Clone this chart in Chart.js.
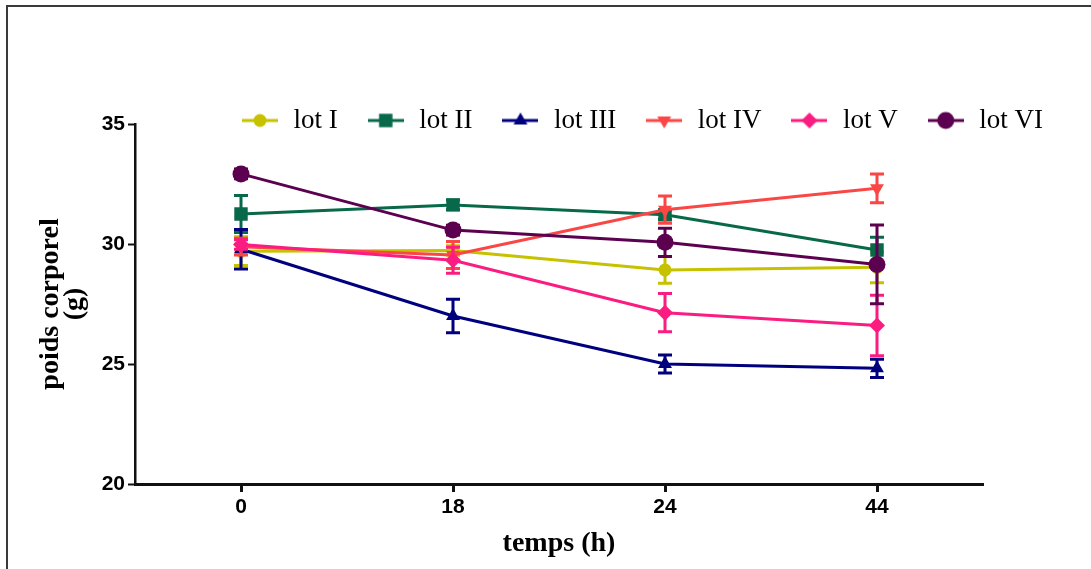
<!DOCTYPE html>
<html lang="fr">
<head>
<meta charset="utf-8">
<title>Poids corporel</title>
<script src="https://cdn.jsdelivr.net/npm/chart.js@4.4.1/dist/chart.umd.min.js"></script>
<style>
  html, body { margin: 0; padding: 0; background: #fff; overflow: hidden; }
  #zone { position: relative; width: 1091px; height: 569px; }
  #graphePoids { position: absolute; left: 0; top: 0; }
  #cadre { position: absolute; left: 6px; top: 5px; width: 1100px; height: 600px;
           border-left: 2px solid #3a3a3a; border-top: 2px solid #3a3a3a; pointer-events: none; }
</style>
</head>
<body>
<div id="zone">
  <canvas id="graphePoids" width="1091" height="569" style="width:1091px;height:569px"></canvas>
  <div id="cadre"></div>
</div>
<script>
/* ------------ Données ------------ */
const heures = ["0", "18", "24", "44"];
const nomsLots = ["lot I", "lot II", "lot III", "lot IV", "lot V", "lot VI"];

const lot1 = [29.70, 29.73, 28.92, 29.03];
const lot2 = [31.25, 31.63, 31.22, 29.75];
const lot3 = [29.78, 27.00, 25.00, 24.82];
const lot4 = [29.89, 29.54, 31.43, 32.32];
const lot5 = [29.98, 29.32, 27.14, 26.60];
const lot6 = [32.92, 30.58, 30.07, 29.15];

// erreurs standard (barres d'erreur)
const err1 = [0.60, 0.20, 0.56, 0.64];
const err2 = [0.77, 0.20, 0.20, 0.53];
const err3 = [0.82, 0.70, 0.37, 0.38];
const err4 = [0.35, 0.56, 0.57, 0.60];
const err5 = [0.20, 0.54, 0.80, 1.26];
const err6 = [0.20, 0.20, 0.59, 1.64];

const graduationsY = [20, 25, 30, 35];

/* ------------ Styles ------------ */
const couleurs = ["#c6c200", "#08694a", "#00007f", "#fb4646", "#fb1c82", "#5c0050"];
const formes = ["circle", "rect", "triangle", "triangle", "rectRot", "circle"];
const rotations = [0, 0, 0, 180, 0, 0];
const rayons = [6.5, 9.5, 8, 8, 8, 8.5];

const valeurs = [lot1, lot2, lot3, lot4, lot5, lot6];
const erreurs = [err1, err2, err3, err4, err5, err6];

const policeSerif = "'Liberation Serif', 'Times New Roman', serif";
const policeSans = "'Liberation Sans', Arial, sans-serif";

/* ------------ Barres d'erreur (dessinées avant chaque série) ------------ */
const barresErreur = {
  id: "barresErreur",
  beforeDatasetDraw(chart, args) {
    const i = args.index;
    const ds = chart.data.datasets[i];
    const y = chart.scales.y;
    const ctx = chart.ctx;
    ctx.save();
    ctx.strokeStyle = ds.borderColor;
    ctx.lineWidth = 3;
    args.meta.data.forEach((pt, j) => {
      const v = ds.data[j];
      const e = ds.erreurs[j];
      const haut = y.getPixelForValue(v + e);
      const bas = y.getPixelForValue(v - e);
      ctx.beginPath();
      ctx.moveTo(pt.x, haut);
      ctx.lineTo(pt.x, bas);
      ctx.moveTo(pt.x - 7, haut);
      ctx.lineTo(pt.x + 7, haut);
      ctx.moveTo(pt.x - 7, bas);
      ctx.lineTo(pt.x + 7, bas);
      ctx.stroke();
    });
    ctx.restore();
  }
};

/* ------------ Légende : on la décale un peu ------------ */
const placerLegende = {
  id: "placerLegende",
  afterLayout(chart) {
    const lg = chart.legend;
    lg.left = 212;
    lg.right = 1091;
    lg.top += 20;
    lg.bottom += 20;
  }
};

// petit dessin trait + symbole pour la légende
function symboleLegende(i) {
  const c = document.createElement("canvas");
  c.width = 36;
  c.height = 20;
  const ctx = c.getContext("2d");
  ctx.strokeStyle = couleurs[i];
  ctx.fillStyle = couleurs[i];
  ctx.lineWidth = 3;
  ctx.beginPath();
  ctx.moveTo(0, 10);
  ctx.lineTo(36, 10);
  ctx.stroke();
  Chart.helpers.drawPoint(ctx, {
    pointStyle: formes[i], rotation: rotations[i], radius: rayons[i], borderWidth: 0
  }, 18, 10);
  return c;
}

/* ------------ Graphique ------------ */
function genererGraphique() {
  const ctx = document.getElementById("graphePoids");

  const datasets = nomsLots.map((nom, i) => ({
    label: nom,
    data: valeurs[i],
    erreurs: erreurs[i],
    borderColor: couleurs[i],
    backgroundColor: couleurs[i],
    borderWidth: 3,
    pointStyle: formes[i],
    pointRotation: rotations[i],
    pointRadius: rayons[i],
    pointHoverRadius: rayons[i],
    pointBorderWidth: 0,
    tension: 0,
    order: nomsLots.length - 1 - i
  }));

  new Chart(ctx, {
    type: "line",
    data: { labels: heures, datasets },
    plugins: [barresErreur, placerLegende],
    options: {
      responsive: false,
      animation: false,
      layout: { padding: { left: 30, right: 108, top: 59, bottom: 0 } },
      plugins: {
        tooltip: { enabled: false },
        legend: {
          position: "top",
          align: "start",
          labels: {
            usePointStyle: true,
            pointStyleWidth: 40,
            padding: 28,
            color: "#000",
            font: { family: policeSerif, size: 27 },
            generateLabels: () => nomsLots.map((nom, i) => ({
              text: nom,
              datasetIndex: i,
              pointStyle: symboleLegende(i),
              fillStyle: couleurs[i],
              strokeStyle: couleurs[i],
              lineWidth: 0,
              fontColor: "#000",
              hidden: false
            }))
          }
        }
      },
      scales: {
        x: {
          type: "category",
          offset: true,
          afterFit: s => { s.height = 85; },
          border: { color: "#111", width: 3 },
          grid: { offset: false, drawOnChartArea: false, drawTicks: true, tickLength: 8, tickWidth: 3, tickColor: "#111" },
          ticks: { color: "#000", padding: 3, font: { family: policeSans, size: 21, weight: "bold" } },
          title: {
            display: true, text: "temps (h)", color: "#000",
            font: { family: policeSerif, size: 28, weight: "bold" },
            padding: { top: 0, bottom: 8 }
          }
        },
        y: {
          min: 20,
          max: 35,
          afterFit: s => { s.width = 105; },
          afterBuildTicks: s => { s.ticks = graduationsY.map(v => ({ value: v })); },
          border: { color: "#111", width: 2.5 },
          grid: { drawOnChartArea: false, drawTicks: true, tickLength: 7, tickWidth: 2, tickColor: "#111" },
          ticks: { color: "#000", padding: 3, font: { family: policeSans, size: 21, weight: "bold" } },
          title: {
            display: true, text: ["poids corporel", "(g)"], color: "#000",
            font: { family: policeSerif, size: 28, weight: "bold", lineHeight: 0.88 },
            padding: { top: 8, bottom: 0 }
          }
        }
      }
    }
  });
}

document.addEventListener("DOMContentLoaded", genererGraphique);
</script>
</body>
</html>
